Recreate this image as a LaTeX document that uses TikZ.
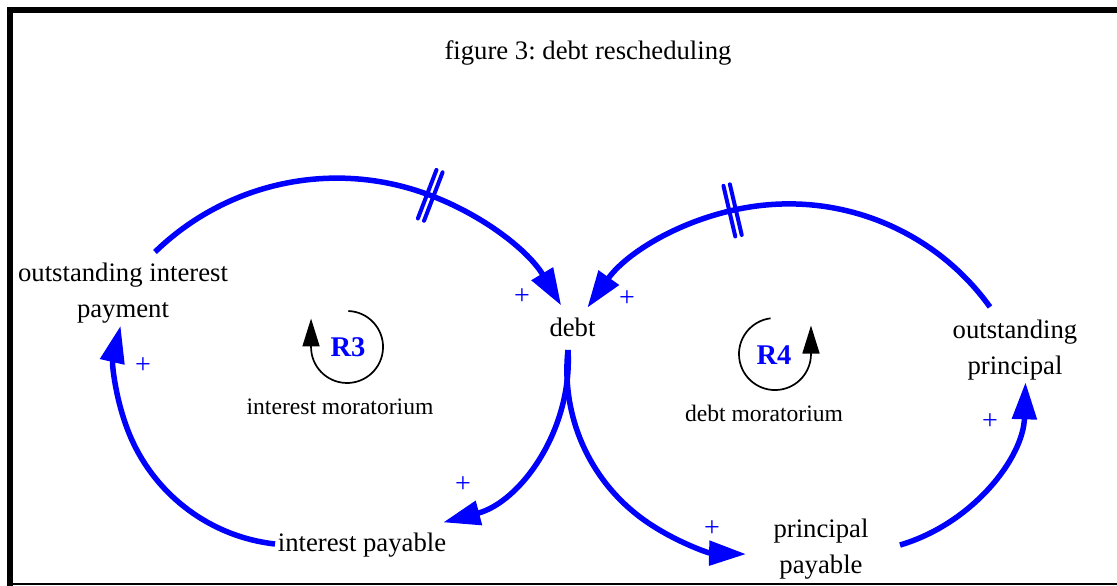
\documentclass[tikz,border=0pt]{standalone}
\usepackage{fontspec}
\setmainfont{Liberation Serif}
\usetikzlibrary{arrows.meta,decorations.markings}
\definecolor{linkblue}{RGB}{0,0,255}
\frenchspacing
\begin{document}
\begin{tikzpicture}[x=1pt,y=1pt,
  lbl/.style={font=\fontsize{26.7}{36}\selectfont, align=center, inner sep=0pt},
  looplbl/.style={font=\fontsize{23.6}{28}\selectfont, inner sep=0pt},
  loopid/.style={font=\fontsize{28.5}{34}\selectfont\bfseries, text=linkblue, inner sep=0pt},
  pol/.style={font=\fontsize{28}{30}\selectfont, text=linkblue, inner sep=0pt},
  link/.style={draw=linkblue, line width=5.5pt, -{Triangle[length=37pt,width=24pt]}},
  loopar/.style={draw=black, line width=1.7pt, -{Triangle[length=28pt,width=17pt]}},
  delaymark/.style={postaction={decorate,decoration={markings,
     mark=at position #1 with {\draw[-, draw=linkblue, line width=4pt, line cap=round]
        (-3.3,-26) -- (-3.3,26) (3.3,-26) -- (3.3,26);}}}},
  framethick/.style={draw=black, line width=6pt},
  framethin/.style={draw=black, line width=1.5pt}
]
\useasboundingbox (0,0) rectangle (1117,-586);
% frame
\draw[framethick] (10,-586) -- (10,-9.7) -- (1117,-9.7);
\draw[framethin] (10,-584.2) -- (1117,-584.2);

% title
\node[lbl] (title) at (588,-53) {figure 3: debt rescheduling};

% variables
\node[lbl] (opi) at (123,-293) {outstanding interest\\payment};
\node[lbl] (debt) at (572.5,-327) {debt};
\node[lbl] (ip) at (362,-545) {interest payable};
\node[lbl] (pp) at (821,-549) {principal\\payable};
\node[lbl] (op) at (1015,-350) {outstanding\\principal};

% loop identifiers
\node[loopid] (r3) at (348,-347) {R3};
\node[looplbl] (r3t) at (340,-407) {interest moratorium};
\node[loopid] (r4) at (774,-355) {R4};
\node[looplbl] (r4t) at (764,-413) {debt moratorium};

% connector end points
\coordinate (a1s) at (155,-252);
\coordinate (a2s) at (990,-307);
\coordinate (dbot) at (568,-350);
\coordinate (a5s) at (275,-544);
\coordinate (a6s) at (900,-545);
\coordinate (r3s) at (348.3,-311);
\coordinate (r4s) at (770.6,-318.3);

% links
\draw[link, delaymark=0.63] (a1s) arc[start angle=134.2, end angle=30.8, radius=261];
\draw[link, delaymark=0.62] (a2s) arc[start angle=35.7, end angle=144.5, radius=247.6];
\draw[link] (dbot) arc[start angle=3.4, end angle=-75.2, radius=168];
\draw[link] (dbot) arc[start angle=173.7, end angle=268.5, radius=184];
\draw[link] (a5s) arc[start angle=263.6, end angle=167, radius=179];
\draw[link] (a6s) arc[start angle=-73.6, end angle=-1.7, radius=175];

% polarities
\node[pol] (p1) at (522,-297) {+};
\node[pol] (p2) at (627,-299) {+};
\node[pol] (p3) at (463,-485) {+};
\node[pol] (p4) at (712,-529) {+};
\node[pol] (p5) at (143,-366) {+};
\node[pol] (p6) at (990,-422) {+};

% loop arrows
\draw[loopar] (r3s) arc[start angle=88, end angle=-180, radius=36] -- ++(0,28.5);
\draw[loopar] (r4s) arc[start angle=97, end angle=360, radius=36] -- ++(0,28.5);
\end{tikzpicture}
\end{document}
